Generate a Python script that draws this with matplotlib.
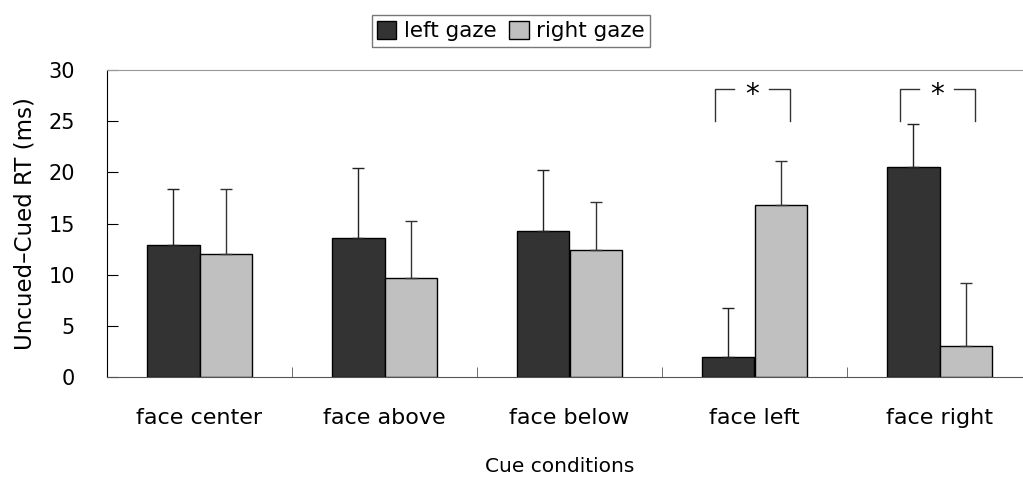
import numpy as np
import matplotlib
matplotlib.use('agg')
from matplotlib import pyplot as plt

plt.rcParams['font.family'] = ['DejaVu Sans']

conditions = ['face center', 'face above', 'face below', 'face left', 'face right']
left_gaze = [12.9, 13.55, 14.3, 2.0, 20.55]
left_err = [5.5, 6.9, 5.9, 4.7, 4.15]
right_gaze = [12.0, 9.7, 12.4, 16.8, 3.0]
right_err = [6.4, 5.55, 4.7, 4.3, 6.2]
sig_conditions = [3, 4]

x = np.arange(len(conditions))
w = 0.282

fig = plt.figure(figsize=(10.23, 4.79), dpi=100)
ax = fig.add_axes([107/1023, 1 - 377/479, 925/1023, 307/479])

ax.bar(x - w/2, left_gaze, w, color='#333333', edgecolor='black', lw=1, label='left gaze',
       yerr=[np.zeros(5), left_err], error_kw=dict(ecolor='#222222', elinewidth=1, capsize=4, capthick=1))
ax.bar(x + w/2, right_gaze, w, color='#c0c0c0', edgecolor='black', lw=1, label='right gaze',
       yerr=[np.zeros(5), right_err], error_kw=dict(ecolor='#333333', elinewidth=1, capsize=4, capthick=1))

# significance brackets
for i in sig_conditions:
    l, r = i - 0.215, i + 0.19
    top, bot = 28.1, 25.05
    ax.plot([l, l, i - 0.11], [bot, top, top], color='#333333', lw=1)
    ax.plot([i + 0.08, r, r], [top, top, bot], color='#333333', lw=1)
    ax.text(i - 0.015, 27.6, '*', ha='center', va='center', fontsize=20)

ax.set_xlim(-0.5, 4.5)
ax.set_ylim(0, 30)
ax.set_yticks(range(0, 31, 5))
ax.set_xticks(x)
ax.set_xticklabels(conditions, fontsize=16)
ax.set_xticks(x[:-1] + 0.5, minor=True)
ax.tick_params(axis='x', which='major', length=0, pad=22)
ax.tick_params(axis='x', which='minor', direction='in', length=7, color='#555555')
ax.tick_params(axis='y', direction='in', length=8, labelsize=15, pad=23)

ax.spines['right'].set_visible(False)
ax.spines['top'].set_color('#999999')
ax.spines['bottom'].set_color('#555555')
ax.spines['left'].set_color('black')

ax.set_ylabel('Uncued\u2013Cued RT (ms)', fontsize=16.5, labelpad=9)
fig.text(560/1023, 1 - 467/479, 'Cue conditions', ha='center', va='center', fontsize=14.5)

fig.legend(loc='center', bbox_to_anchor=(511/1023, 1 - 31/479), ncol=2, fontsize=15.5,
           frameon=True, fancybox=False, edgecolor='#555555', handlelength=0.9, handleheight=0.9,
           handletextpad=0.35, columnspacing=0.6, borderpad=0.25)

plt.savefig('out.png', dpi=100)
plt.close()
